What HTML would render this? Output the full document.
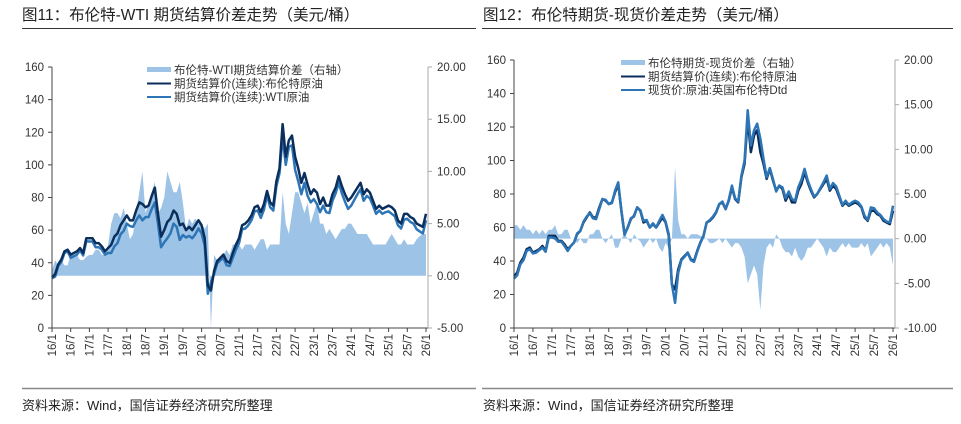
<!DOCTYPE html>
<html><head><meta charset="utf-8"><style>
body{margin:0;background:#fff;width:961px;height:419px;overflow:hidden;font-family:"Liberation Sans","Noto Sans CJK SC",sans-serif}
svg text{font-family:"Liberation Sans","Noto Sans CJK SC",sans-serif}
</style></head><body>
<svg id="s" width="961" height="419" xmlns="http://www.w3.org/2000/svg">
<text x="22" y="20" font-size="15.5" fill="#222">图11：布伦特-WTI 期货结算价差走势（美元/桶）</text>
<line x1="22" y1="28.5" x2="476" y2="28.5" stroke="#333" stroke-width="1"/>
<text x="483" y="20" font-size="15.5" fill="#222">图12：布伦特期货-现货价差走势（美元/桶）</text>
<line x1="482" y1="28.5" x2="953" y2="28.5" stroke="#333" stroke-width="1"/>
<line x1="22" y1="388.5" x2="476" y2="388.5" stroke="#888" stroke-width="1.5"/>
<line x1="482" y1="388.5" x2="953" y2="388.5" stroke="#888" stroke-width="1.5"/>
<text x="22" y="410" font-size="13" fill="#222">资料来源：Wind，国信证券经济研究所整理</text>
<text x="483" y="410" font-size="13" fill="#222">资料来源：Wind，国信证券经济研究所整理</text>
<g id="L"></g><g id="R"></g>
</svg>
<script>
const brent=[31,33,39,42,47,48,45,46,47,49,46,55,
55,55,52,52,50,47,49,51,56,58,63,66,
69,66,66,72,77,76,74,75,81,86,70,56,
60,65,67,72,70,63,64,60,62,60,63,66,
63,55,26,23,35,41,43,45,41,40,46,51,
55,63,64,66,69,74,75,71,76,84,77,75,
90,98,125,105,115,118,105,98,89,95,88,82,
85,83,76,80,75,75,82,86,93,87,82,78,
80,83,86,89,82,85,83,78,73,75,73,74,
75,74,72,66,64,70,70,68,67,64,63,62,70];
const wtiSpread=[0.5,1.5,1,1.5,1,1,2,2,2,1.5,1.5,1.8,
2,2,2.5,2.5,2,2,3,5,6,6,5.5,6.5,
5,3.5,4,6,8,10,6,7,8,9,6,6.5,
7.5,10,9,8,8,9,7,4.5,5.5,5,5.5,5,
5,4.5,5,-5,2,1.5,1.5,2,2.5,2,3,3,
3,2.5,3,3,3,2.5,3,3.5,3.5,2.5,3,3,
3,3,8,5,4,6,8,8,7,6,7,5,
6,7,5,5,4,4.5,4,3.5,4,4.5,4.5,5,
5,4.5,4,4,4,4,3.5,3,3,3,3,3,
3.5,4,3.5,3,3,3.5,3,3,3,3.5,3.8,4,4];
const dtdSpread=[1.5,1.5,1,1.5,1,1,0.5,1,0.5,1,0.5,1,
1,1.5,0.5,0.5,1,1,0,0,-0.5,0,-0.5,-0.5,
0.5,0.5,1,1,0,-0.5,0,0.5,-1,-1,0,0.5,
0,-0.5,0.5,0,-0.3,-1,-0.5,0,-0.5,0,-1,-1.5,
-0.5,-1,0,8,2,0.5,0.5,0,0.5,0.5,0.5,0.3,
0.2,0,-0.5,-0.5,-0.3,0,-0.5,0,-0.5,-1,-0.5,-0.5,
-1,-2,-5,-4,-3,-4,-8,-3,-1,-0.5,-1,0.5,
0,-1,-1.5,-1.5,-2,-1,-2,-2.5,-2,-1,-1,-0.5,
0,-0.5,-1,-2,-1,-1.5,-1.5,-1,-0.5,-1,-0.5,-1,
-1,-1,-0.5,-1,-0.5,-2,-1.5,-1,-0.5,-1,-0.5,-1,-3];
const xTicks=["16/1","16/7","17/1","17/7","18/1","18/7","19/1","19/7","20/1","20/7","21/1","21/7","22/1","22/7","23/1","23/7","24/1","24/7","25/1","25/7","26/1"];
const leftTicks=[0,20,40,60,80,100,120,140,160];
const rightTicksL=["-5.00","0.00","5.00","10.00","15.00","20.00"];
const rightTicksR=["-10.00","-5.00","0.00","5.00","10.00","15.00","20.00"];
const wti=brent.map((v,i)=>v-wtiSpread[i]);
const dtd=brent.map((v,i)=>v-dtdSpread[i]);

const NS="http://www.w3.org/2000/svg";
function mk(p,t,a){const e=document.createElementNS(NS,t);for(const k in a)e.setAttribute(k,a[k]);p.appendChild(e);return e;}
function chart(g,c){
  const x=i=>c.x0+(c.x1-c.x0)*i/(brent.length-1);
  const yL=v=>c.yb+(c.yt-c.yb)*v/160;
  const yR=v=>c.yb+(c.yt-c.yb)*(v-c.rmin)/(c.rmax-c.rmin);
  let d="M"+x(0)+","+yR(0);
  c.spread.forEach((v,i)=>{d+=" L"+x(i)+","+yR(v);});
  d+=" L"+x(c.spread.length-1)+","+yR(0)+"Z";
  const a=mk(g,"path",{d:d,fill:"#9dc3e6"});
  
  
  const lines=[[c.s2,"#2e75b6"],[brent,"#0b2f5c"]];
  if(c.frontBrent) lines.reverse();
  lines.forEach(([arr,col])=>{
    const p=mk(g,"polyline",{points:arr.map((v,i)=>x(i)+","+yL(v)).join(" "),fill:"none",stroke:col,"stroke-width":2.5,"stroke-linejoin":"round"});
    
    
  });
  mk(g,"line",{x1:c.x0,y1:c.yt,x2:c.x0,y2:c.yb,stroke:"#444"});
  mk(g,"line",{x1:c.x0,y1:c.yb,x2:c.ax,y2:c.yb,stroke:"#444"});
  mk(g,"line",{x1:c.ax,y1:c.yt,x2:c.ax,y2:c.yb,stroke:"#aaa"});
  leftTicks.forEach(v=>{
    mk(g,"line",{x1:c.x0-4,y1:yL(v),x2:c.x0,y2:yL(v),stroke:"#444"});
    const t=mk(g,"text",{x:c.x0-8,y:yL(v)+4,"font-size":11.5,"text-anchor":"end",fill:"#333"});t.textContent=v;
    
    
  });
  c.rt.forEach((s,i)=>{
    const v=c.rmin+5*i;
    mk(g,"line",{x1:c.ax,y1:yR(v),x2:c.ax+4,y2:yR(v),stroke:"#aaa"});
    const t=mk(g,"text",{x:c.ax+9,y:yR(v)+4,"font-size":11.5,fill:"#333"});t.textContent=s;
    
    
  });
  xTicks.forEach((s,i)=>{
    const xx=x(i*6);
    mk(g,"line",{x1:xx,y1:c.yb,x2:xx,y2:c.yb+4,stroke:"#444"});
    const t=mk(g,"text",{transform:`translate(${xx+4},${c.yb+6}) rotate(-90)`,"font-size":11.5,"text-anchor":"end",fill:"#333"});t.textContent=s;
    
    
  });
  const lg=mk(g,"g",{});
  
  
  c.leg.forEach((s,i)=>{
    const yy=c.ly+i*13.5;
    if(i==0) mk(lg,"rect",{x:c.lx,y:yy-7,width:24,height:5,fill:"#9dc3e6"});
    else mk(lg,"line",{x1:c.lx,y1:yy-4,x2:c.lx+24,y2:yy-4,stroke:i==1?"#0b2f5c":"#2e75b6","stroke-width":2});
    const t=mk(lg,"text",{x:c.lx+27,y:yy,"font-size":11.5,fill:"#333"});t.textContent=s;
    
    
  });
}
chart(document.getElementById("L"),{x0:52,x1:426,ax:428,yt:67,yb:328,rmin:-5,rmax:20,spread:wtiSpread,s2:wti,rt:rightTicksL,lx:147,ly:74,frontBrent:false,
 leg:["布伦特-WTI期货结算价差（右轴）","期货结算价(连续):布伦特原油","期货结算价(连续):WTI原油"]});
chart(document.getElementById("R"),{x0:514,x1:893,ax:895,yt:60,yb:328,rmin:-10,rmax:20,spread:dtdSpread,s2:dtd,rt:rightTicksR,lx:621,ly:67,frontBrent:true,
 leg:["布伦特期货-现货价差（右轴）","期货结算价(连续):布伦特原油","现货价:原油:英国布伦特Dtd"]});
</script>
</body></html>
